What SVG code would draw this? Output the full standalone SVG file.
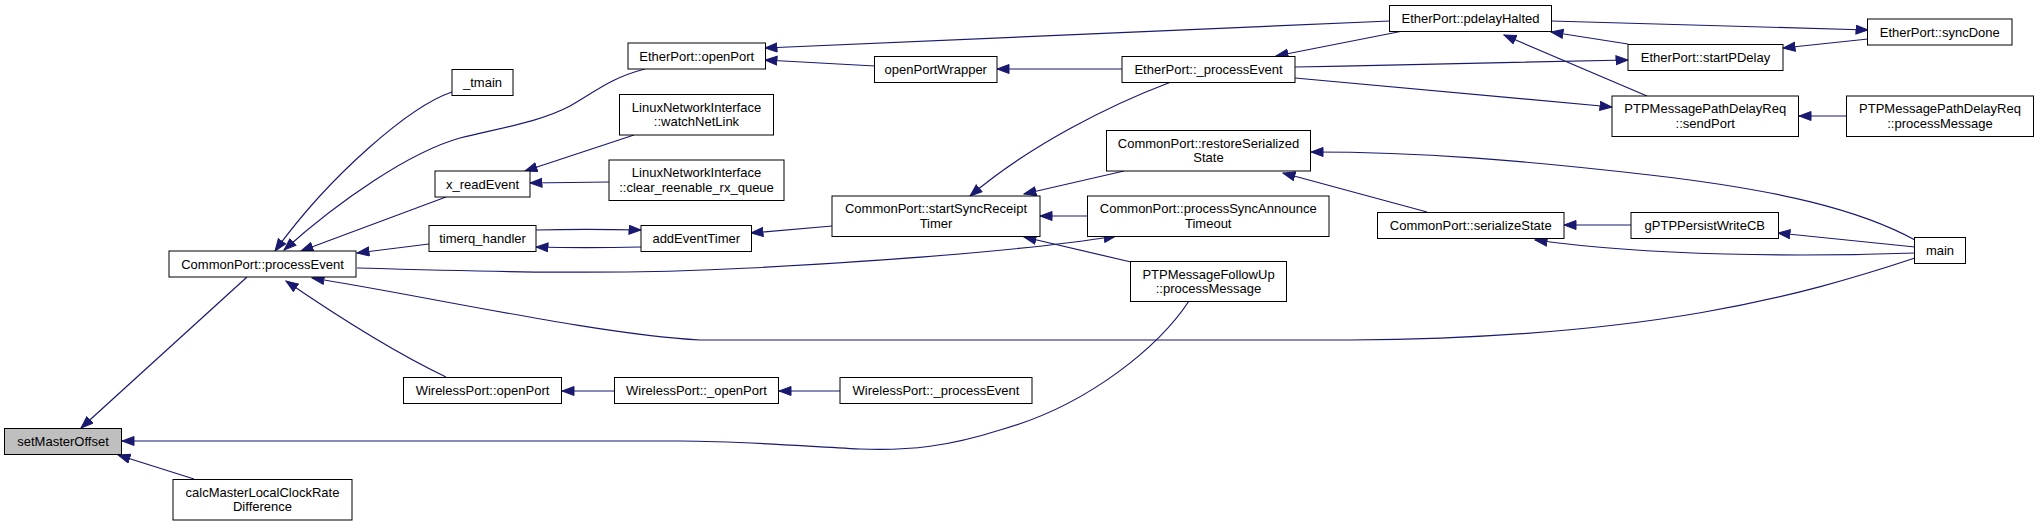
<svg xmlns="http://www.w3.org/2000/svg" width="2039" height="526" viewBox="0 0 2039 526">
<style>
.n rect{fill:#fff;stroke:#000;stroke-width:1}
.n.cur rect{fill:#bfbfbf}
.n text{font-family:"Liberation Sans",Arial,Helvetica,sans-serif;font-size:13px;fill:#000;text-anchor:middle}
.e path{fill:none;stroke:#191970;stroke-width:1.2;marker-end:url(#ah)}
</style>
<defs>
<marker id="ah" markerUnits="userSpaceOnUse" markerWidth="14" markerHeight="12" refX="12.5" refY="5" orient="auto">
<path d="M0.5,0.5 L12.5,5 L0.5,9.5 Z" fill="#191970" stroke="#191970" stroke-width="1"/>
</marker>
</defs>
<rect width="2039" height="526" fill="#fff"/>
<g id="edges" class="e">
<path d="M247,277 L81,428"/>
<path d="M194,479 L118,455"/>
<path d="M1189,301 C1160,345 1090,405 1000,430 C950,446 910,451 860,449 C800,446 740,441 680,441 L122,441"/>
<path d="M452,92 C410,106 330,175 275,251"/>
<path d="M645,69 C610,78 595,92 570,106 C540,122 500,128 460,138 C410,152 340,200 284,250"/>
<path d="M446,197 L301,251"/>
<path d="M429,244 L357,253"/>
<path d="M1915,258 C1800,296 1650,338 1350,340 L700,340 C600,335 420,295 312,278"/>
<path d="M446,377 C400,355 340,318 286,281"/>
<path d="M357,268 C500,272 620,275 750,268 C900,260 1030,250 1116,236"/>
<path d="M634,135 L525,171"/>
<path d="M609,182 L530,183"/>
<path d="M536,230 C570,229 600,229 641,230"/>
<path d="M641,247 C600,248 570,248 536,247"/>
<path d="M832,226 L751,233"/>
<path d="M1390,21 L765,48"/>
<path d="M875,66 L765,60"/>
<path d="M1122,69 L997,69"/>
<path d="M1403,31 L1276,56"/>
<path d="M1295,67 C1400,65 1500,63 1628,60"/>
<path d="M1295,78 L1612,107"/>
<path d="M1171,82 C1110,105 1030,145 970,196"/>
<path d="M1124,171 L1024,194"/>
<path d="M1088,216 L1040,216"/>
<path d="M1131,262 L1024,237"/>
<path d="M1915,240 C1860,210 1780,190 1650,175 C1520,160 1420,152 1311,152"/>
<path d="M1427,212 L1283,173"/>
<path d="M1551,21 L1868,30"/>
<path d="M1628,44 L1551,32"/>
<path d="M1647,96 L1504,35"/>
<path d="M1868,39 L1783,48"/>
<path d="M1847,116 L1799,116"/>
<path d="M1631,225 L1564,225"/>
<path d="M1915,247 L1778,233"/>
<path d="M1915,253 C1800,257 1650,256 1535,240"/>
<path d="M614,391 L562,391"/>
<path d="M840,391 L779,391"/>
</g>
<g id="setMasterOffset" class="n cur"><rect x="4.5" y="428.5" width="117" height="26"/><text x="63" y="446">setMasterOffset</text></g>
<g id="processEvent" class="n"><rect x="169" y="251" width="187" height="26"/><text x="262.5" y="268.5">CommonPort::processEvent</text></g>
<g id="calcMasterLocalClockRateDifference" class="n"><rect x="173" y="479.5" width="179" height="40.5"/><text x="262.5" y="496.5">calcMasterLocalClockRate</text><text x="262.5" y="511">Difference</text></g>
<g id="tmain" class="n"><rect x="452" y="69.5" width="61" height="26"/><text x="482.5" y="87">_tmain</text></g>
<g id="x_readEvent" class="n"><rect x="435" y="171" width="95" height="26"/><text x="482.5" y="188.5">x_readEvent</text></g>
<g id="timerq_handler" class="n"><rect x="429" y="225.5" width="107" height="26"/><text x="482.5" y="243">timerq_handler</text></g>
<g id="WirelessPort_openPort" class="n"><rect x="403.5" y="377.5" width="158" height="26"/><text x="482.5" y="395">WirelessPort::openPort</text></g>
<g id="EtherPort_openPort" class="n"><rect x="628" y="43" width="137.5" height="26"/><text x="696.75" y="60.5">EtherPort::openPort</text></g>
<g id="watchNetLink" class="n"><rect x="619.5" y="94.5" width="154" height="40.5"/><text x="696.5" y="111.5">LinuxNetworkInterface</text><text x="696.5" y="126">::watchNetLink</text></g>
<g id="clear_reenable_rx_queue" class="n"><rect x="609" y="160" width="175" height="40.5"/><text x="696.5" y="177">LinuxNetworkInterface</text><text x="696.5" y="191.5">::clear_reenable_rx_queue</text></g>
<g id="addEventTimer" class="n"><rect x="641" y="225.5" width="110.5" height="26"/><text x="696.25" y="243">addEventTimer</text></g>
<g id="WirelessPort__openPort" class="n"><rect x="614.5" y="377.5" width="164" height="26"/><text x="696.5" y="395">WirelessPort::_openPort</text></g>
<g id="openPortWrapper" class="n"><rect x="874.5" y="56.5" width="122.5" height="26"/><text x="935.75" y="74">openPortWrapper</text></g>
<g id="startSyncReceiptTimer" class="n"><rect x="832" y="196" width="208" height="40.5"/><text x="936" y="213">CommonPort::startSyncReceipt</text><text x="936" y="227.5">Timer</text></g>
<g id="WirelessPort__processEvent" class="n"><rect x="840" y="377.5" width="192" height="26"/><text x="936" y="395">WirelessPort::_processEvent</text></g>
<g id="EtherPort__processEvent" class="n"><rect x="1122" y="56.5" width="173" height="26"/><text x="1208.5" y="74">EtherPort::_processEvent</text></g>
<g id="restoreSerializedState" class="n"><rect x="1106.5" y="130.5" width="204" height="40.5"/><text x="1208.5" y="147.5">CommonPort::restoreSerialized</text><text x="1208.5" y="162">State</text></g>
<g id="processSyncAnnounceTimeout" class="n"><rect x="1087.5" y="196" width="241.5" height="40.5"/><text x="1208.25" y="213">CommonPort::processSyncAnnounce</text><text x="1208.25" y="227.5">Timeout</text></g>
<g id="FollowUp_processMessage" class="n"><rect x="1130.5" y="261.5" width="156" height="40"/><text x="1208.5" y="278.5">PTPMessageFollowUp</text><text x="1208.5" y="293">::processMessage</text></g>
<g id="pdelayHalted" class="n"><rect x="1389.5" y="5.5" width="162" height="26"/><text x="1470.5" y="23">EtherPort::pdelayHalted</text></g>
<g id="serializeState" class="n"><rect x="1377.5" y="212.5" width="186.5" height="26"/><text x="1470.75" y="230">CommonPort::serializeState</text></g>
<g id="startPDelay" class="n"><rect x="1628" y="44.5" width="155" height="26"/><text x="1705.5" y="62">EtherPort::startPDelay</text></g>
<g id="sendPort" class="n"><rect x="1612" y="96" width="186.5" height="40.5"/><text x="1705.25" y="113">PTPMessagePathDelayReq</text><text x="1705.25" y="127.5">::sendPort</text></g>
<g id="gPTPPersistWriteCB" class="n"><rect x="1631" y="212.5" width="147.5" height="26"/><text x="1704.75" y="230">gPTPPersistWriteCB</text></g>
<g id="syncDone" class="n"><rect x="1867.5" y="19" width="144.5" height="26"/><text x="1939.75" y="36.5">EtherPort::syncDone</text></g>
<g id="PathDelayReq_processMessage" class="n"><rect x="1846.5" y="96" width="187" height="40.5"/><text x="1940" y="113">PTPMessagePathDelayReq</text><text x="1940" y="127.5">::processMessage</text></g>
<g id="main" class="n"><rect x="1914.5" y="237.5" width="51" height="26"/><text x="1940" y="255">main</text></g>
</svg>
